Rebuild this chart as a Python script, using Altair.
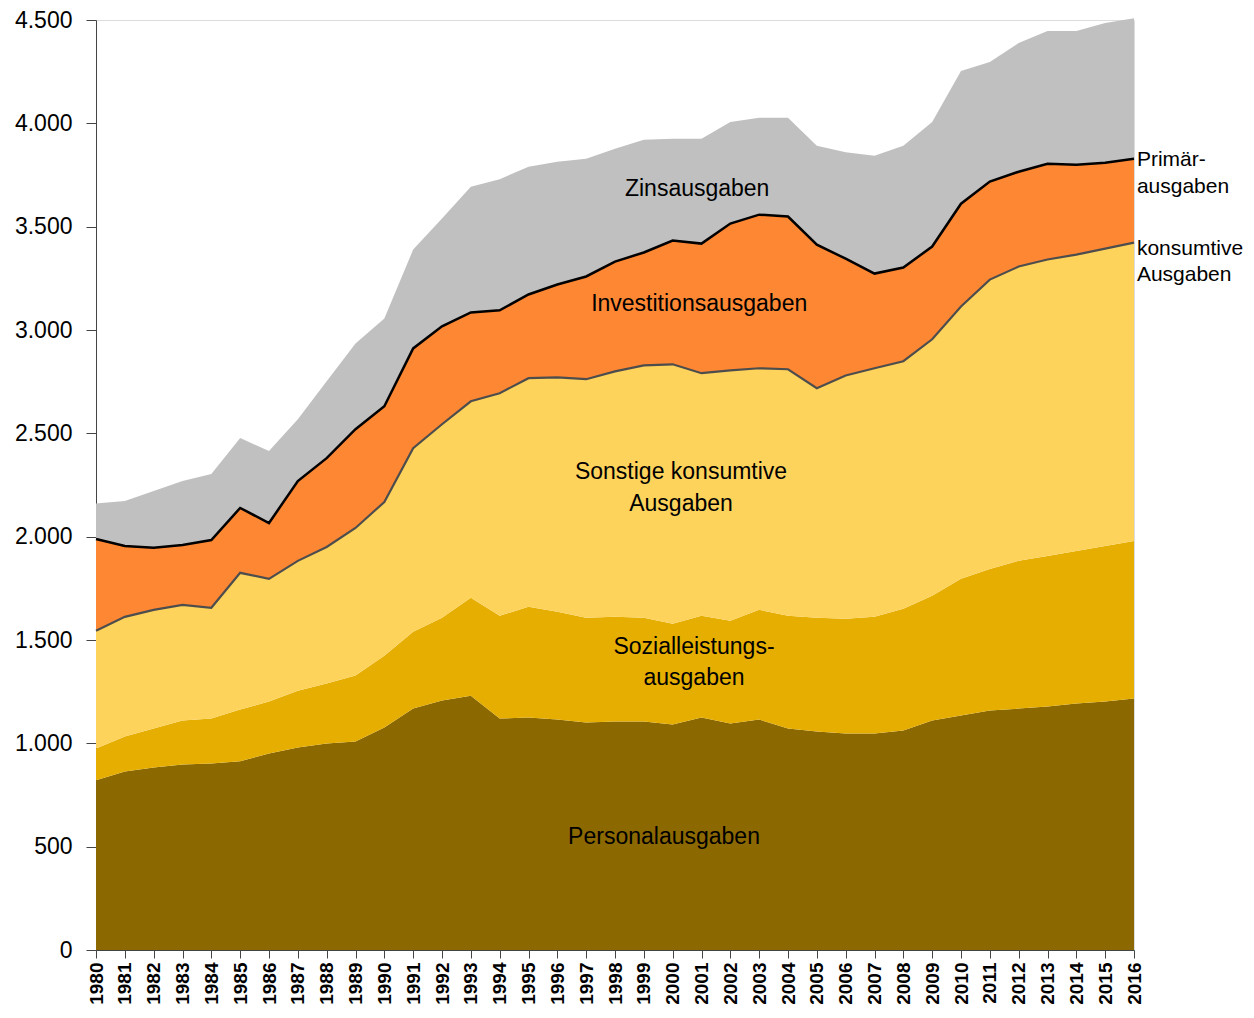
import altair as alt
import pandas as pd

years = list(range(1980, 2017))

personal = [821, 864, 883, 898, 903, 913, 951, 980, 999, 1009, 1077, 1168, 1207, 1230,
            1120, 1125, 1115, 1101, 1106, 1106, 1091, 1125, 1096, 1115, 1072, 1057, 1048,
            1048, 1062, 1110, 1135, 1159, 1168, 1178, 1193, 1202, 1217]
sozial = [154, 169, 189, 212, 217, 251, 251, 275, 290, 319, 347, 372, 401, 474,
          497, 536, 522, 507, 506, 502, 488, 492, 497, 531, 545, 551, 555,
          564, 589, 604, 661, 685, 715, 729, 738, 753, 762]
sonstige = [570, 579, 574, 560, 536, 661, 594, 628, 661, 714, 744, 888, 936, 951,
            1077, 1106, 1134, 1154, 1188, 1221, 1255, 1174, 1212, 1169, 1193, 1110, 1177,
            1203, 1198, 1241, 1318, 1400, 1424, 1434, 1434, 1439, 1444]
invest = [444, 343, 300, 290, 328, 314, 270, 386, 430, 478, 463, 483, 474, 430,
          401, 405, 449, 497, 531, 546, 599, 627, 710, 743, 739, 695, 565,
          458, 453, 449, 497, 474, 459, 463, 435, 415, 406]
zins = [171, 218, 275, 309, 319, 338, 348, 299, 372, 415, 425, 478, 521, 608,
        635, 618, 594, 570, 546, 545, 492, 507, 492, 469, 478, 478, 515,
        570, 589, 603, 642, 579, 623, 643, 647, 676, 680]

series_names = ["Personalausgaben", "Sozialleistungsausgaben", "Sonstige konsumtive Ausgaben",
                "Investitionsausgaben", "Zinsausgaben"]
series_values = [personal, sozial, sonstige, invest, zins]
series_colors = ["#8C6900", "#E6AE00", "#FED35C", "#FE8733", "#C0C0C0"]

label_texts = ["Zinsausgaben", "Investitionsausgaben", "Sonstige konsumtive", "Ausgaben",
               "Sozialleistungs-", "ausgaben", "Personalausgaben"]
label_x = [2000.85, 2000.92, 2000.29, 2000.29, 2000.74, 2000.74, 1999.70]
label_y = [3684, 3124, 2313, 2158, 1468, 1318, 546]

side_texts = ["Primär-", "ausgaben", "konsumtive", "Ausgaben"]
side_x = [2016.1, 2016.1, 2016.1, 2016.1]
side_y = [3824, 3693, 3394, 3264]

rows = []
for i, (name, vals) in enumerate(zip(series_names, series_values)):
    for y, v in zip(years, vals):
        rows.append({"Jahr": y, "Serie": name, "Wert": v, "ord": i})
df = pd.DataFrame(rows)

konsum = [a + b + c for a, b, c in zip(personal, sozial, sonstige)]
primaer = [k + d for k, d in zip(konsum, invest)]
lines_df = pd.DataFrame({"Jahr": years, "konsum": konsum, "primaer": primaer})

labels_df = pd.DataFrame({"x": label_x, "y": label_y, "t": label_texts})
side_df = pd.DataFrame({"x": side_x, "y": side_y, "t": side_texts})

xscale = alt.Scale(type="point", padding=0, domain=years)
tscale = alt.Scale(domain=[1980, 2016], nice=False, zero=False)
yscale = alt.Scale(domain=[0, 4500], nice=False)

xaxis = alt.Axis(labelAngle=270, tickSize=8, labelPadding=4,
                 labelFontSize=19, labelFontWeight="bold", labelFont="Liberation Sans",
                 labelColor="#000000", domainColor="#444444", tickColor="#444444",
                 grid=False, title=None, labelOverlap=False, labelBaseline="middle",
                 labelAlign="right")
yaxis = alt.Axis(values=list(range(0, 4501, 500)), tickSize=10, labelPadding=14,
                 labelFontSize=23, labelFont="Liberation Sans", labelColor="#000000",
                 domainColor="#444444", tickColor="#444444", grid=False, title=None,
                 labelExpr="replace(format(datum.value, ','), ',', '.')")

areas = alt.Chart(df).mark_area(interpolate="linear").encode(
    x=alt.X("Jahr:O", scale=xscale, axis=xaxis),
    y=alt.Y("sum(Wert):Q", stack="zero", scale=yscale, axis=yaxis),
    color=alt.Color("Serie:N", scale=alt.Scale(domain=series_names, range=series_colors), legend=None),
    order=alt.Order("ord:Q", sort="ascending"),
)

line_k = alt.Chart(lines_df).mark_line(color="#4D4D4D", strokeWidth=2.2).encode(
    x=alt.X("Jahr:O", scale=xscale), y=alt.Y("konsum:Q", scale=yscale))
line_p = alt.Chart(lines_df).mark_line(color="#000000", strokeWidth=2.5).encode(
    x=alt.X("Jahr:O", scale=xscale), y=alt.Y("primaer:Q", scale=yscale))

base = alt.layer(areas, line_k, line_p)

text_in = alt.Chart(labels_df).mark_text(font="Liberation Sans", fontSize=23, color="#000000",
                                          align="center", baseline="middle").encode(
    x=alt.X("x:Q", scale=tscale, axis=None), y=alt.Y("y:Q", scale=yscale), text="t:N")
text_side = alt.Chart(side_df).mark_text(font="Liberation Sans", fontSize=21, color="#000000",
                                          align="left", baseline="middle").encode(
    x=alt.X("x:Q", scale=tscale, axis=None), y=alt.Y("y:Q", scale=yscale), text="t:N")
texts = alt.layer(text_in, text_side)

chart = alt.layer(base, texts).resolve_scale(x="independent").properties(
    width=1038, height=930,
    autosize=alt.AutoSizeParams(type="none"),
    padding={"left": 88, "top": 12, "right": 112, "bottom": 62},
).configure_view(stroke=None).configure(background="white")

chart.save("out.html", embed_options={"renderer": "svg", "actions": False})
